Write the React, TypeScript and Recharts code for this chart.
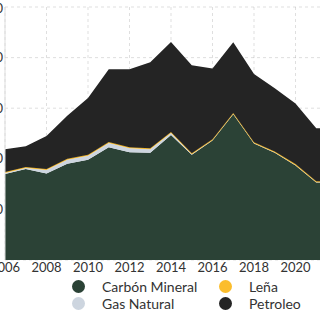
import { AreaChart, Area, XAxis, YAxis, CartesianGrid } from 'recharts';

const years = [2006, 2007, 2008, 2009, 2010, 2011, 2012, 2013, 2014, 2015, 2016, 2017, 2018, 2019, 2020, 2021, 2022];
const carbon = [17.0, 18.0, 17.1, 19.0, 19.8, 22.3, 21.3, 21.2, 24.7, 20.8, 23.6, 28.8, 23.0, 21.2, 18.7, 15.3, 15.3];
const gas = [0.2, 0.2, 0.7, 0.8, 0.8, 0.8, 0.8, 0.7, 0.4, 0.1, 0.05, 0.05, 0.05, 0.05, 0.05, 0.05, 0.05];
const lena = [0.2, 0.2, 0.2, 0.2, 0.2, 0.2, 0.2, 0.2, 0.2, 0.2, 0.2, 0.2, 0.2, 0.2, 0.2, 0.2, 0.2];
const petroleo = [4.5, 4.1, 6.5, 8.5, 11.2, 14.4, 15.4, 17.0, 17.8, 17.4, 14.0, 14.0, 13.5, 12.5, 12.0, 10.5, 10.5];
const yTicks = [10, 20, 30, 40, 50];
const xTicks = [2006, 2008, 2010, 2012, 2014, 2016, 2018, 2020];

const series = [
  { key: 'carbon', name: 'Carbón Mineral', color: '#2b4236' },
  { key: 'gas', name: 'Gas Natural', color: '#cdd5df' },
  { key: 'lena', name: 'Leña', color: '#fbbd2c' },
  { key: 'petroleo', name: 'Petroleo', color: '#242424' },
];

const data = years.map((year, i) => ({
  year,
  carbon: carbon[i],
  gas: gas[i],
  lena: lena[i],
  petroleo: petroleo[i],
}));

const font = 'Lato, "Noto Sans", sans-serif';

function LegendItem({ name, color }: { name: string; color: string }) {
  return (
    <div style={{ display: 'flex', alignItems: 'center', height: 17 }}>
      <span
        style={{
          width: 13,
          height: 13,
          borderRadius: '50%',
          background: color,
          display: 'inline-block',
          marginRight: 17,
        }}
      />
      <span style={{ fontSize: 14, color: '#333' }}>{name}</span>
    </div>
  );
}

export default function App() {
  return (
    <div
      style={{
        position: 'fixed',
        left: 0,
        top: 0,
        width: 320,
        height: 320,
        overflow: 'hidden',
        background: '#fff',
        fontFamily: font,
      }}
    >
      <div style={{ position: 'absolute', left: -35, top: 0 }}>
        <AreaChart
          width={372}
          height={290}
          data={data}
          margin={{ top: 7, right: 0, left: 0, bottom: 0 }}
        >
          <XAxis
            dataKey="year"
            ticks={xTicks}
            interval={0}
            tickSize={0}
            tickMargin={3}
            axisLine={false}
            tick={{ fontSize: 13, fill: '#333', fontFamily: font }}
            height={30}
          />
          <YAxis
            width={40}
            domain={[0, 50]}
            ticks={yTicks}
            tickSize={0}
            tickMargin={2}
            tickLine={false}
            axisLine={{ stroke: '#ddd' }}
            tick={{ fontSize: 13, fill: '#333', fontFamily: font }}
          />
          {series.map((s) => (
            <Area
              key={s.key}
              type="linear"
              dataKey={s.key}
              name={s.name}
              stackId="1"
              stroke={s.key === 'lena' ? '#d9a62c' : s.color}
              strokeWidth={s.key === 'lena' ? 1 : 0}
              fill={s.color}
              fillOpacity={1}
              isAnimationActive={false}
            />
          ))}
          <CartesianGrid stroke="#9c9c9c" strokeOpacity={0.32} strokeDasharray="3 3" />
        </AreaChart>
      </div>
      <div style={{ position: 'absolute', left: 72, top: 278, display: 'flex' }}>
        <div style={{ width: 147 }}>
          <LegendItem name={series[0].name} color={series[0].color} />
          <LegendItem name={series[1].name} color={series[1].color} />
        </div>
        <div>
          <LegendItem name={series[2].name} color={series[2].color} />
          <LegendItem name={series[3].name} color={series[3].color} />
        </div>
      </div>
    </div>
  );
}
